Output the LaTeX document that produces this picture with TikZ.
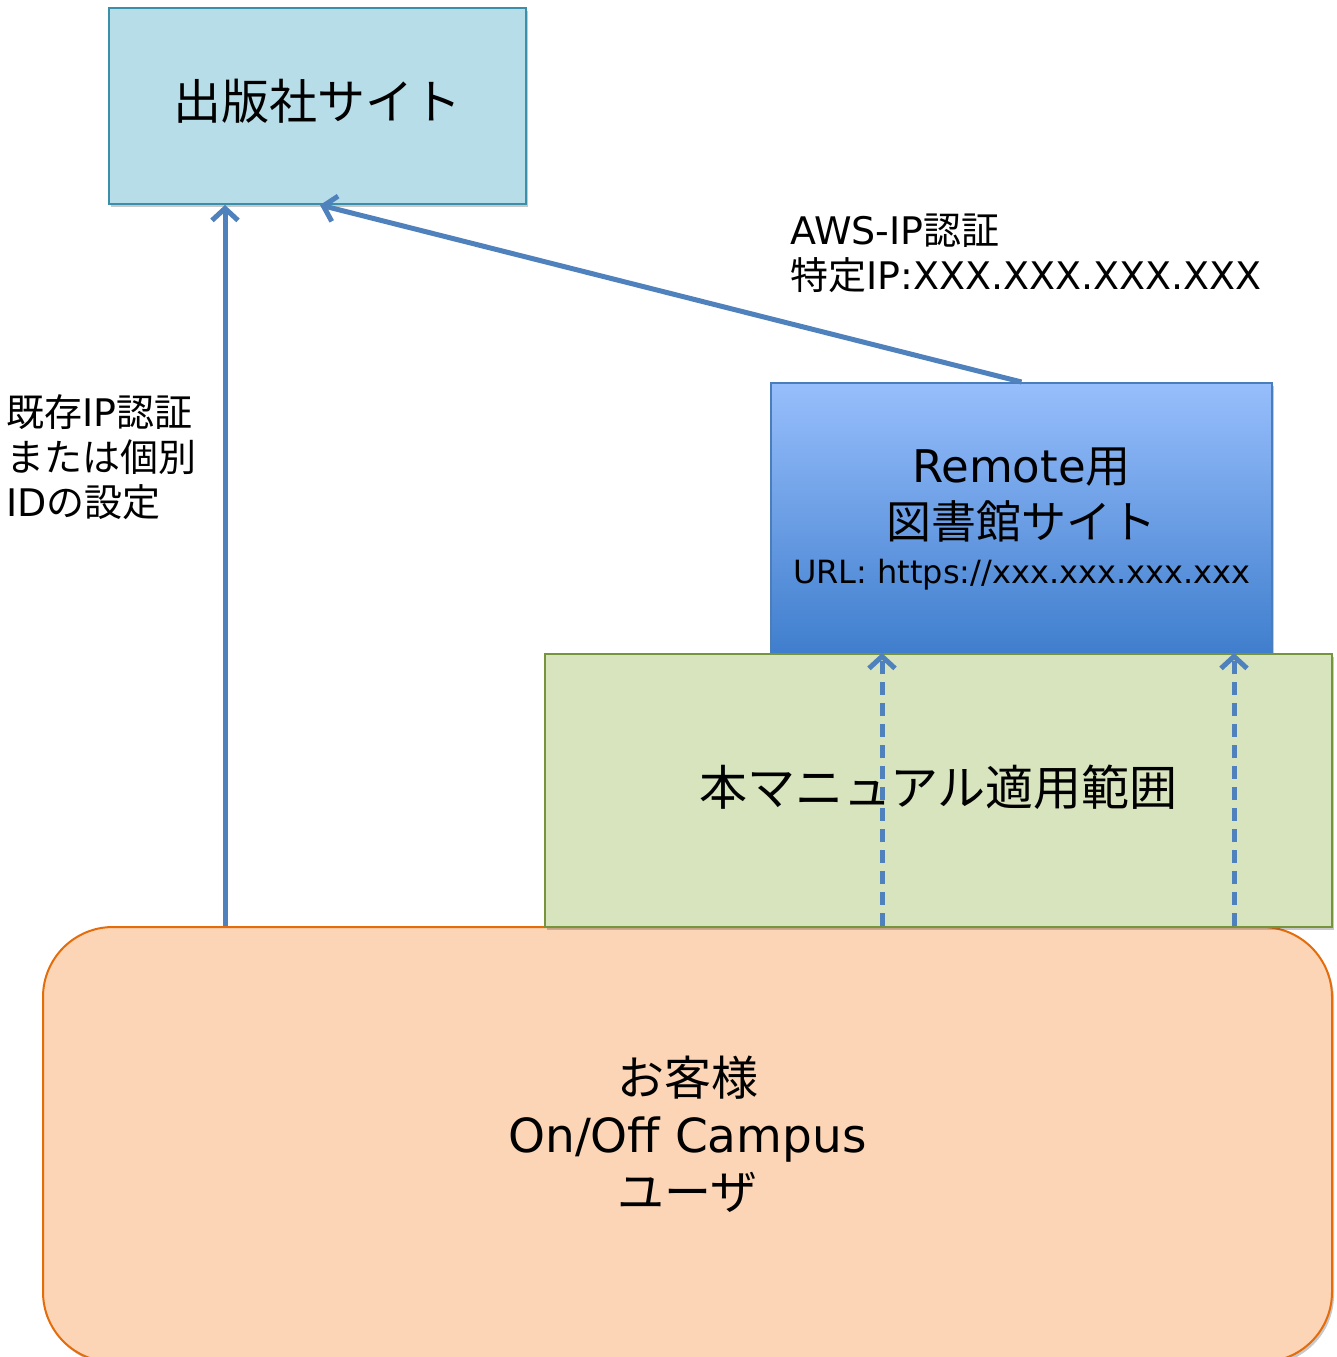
\documentclass[tikz,border=0pt]{standalone}
\usepackage{fontspec}
\setmainfont{DejaVu Sans}
\newfontfamily\jp{Noto Sans CJK JP}
\usetikzlibrary{arrows.meta,shadows}
\definecolor{pubfill}{HTML}{B7DDE8}
\definecolor{publine}{HTML}{3C8FA8}
\definecolor{remtop}{HTML}{97BEFC}
\definecolor{rembot}{HTML}{3F7ECD}
\definecolor{remline}{HTML}{4A7EBB}
\definecolor{scopefill}{HTML}{D7E4BD}
\definecolor{scopeline}{HTML}{77933C}
\definecolor{custfill}{HTML}{FBD5B5}
\definecolor{custline}{HTML}{E46C0A}
\definecolor{arrcol}{HTML}{4F81BD}
\tikzset{
  boxbase/.style={rectangle, line width=2pt, inner sep=0pt,
    drop shadow={shadow xshift=2pt, shadow yshift=-3pt, opacity=.3, fill=black!70}},
  arr/.style={draw=arrcol, line width=5pt,
    -{Straight Barb[length=12pt,width=26pt]}},
  dasharr/.style={arr, dash pattern=on 13pt off 8pt},
  lbl/.style={inner sep=0pt, align=left, anchor=west, font=\fontsize{38}{45}\selectfont}
}
\begin{document}
\begin{tikzpicture}[x=1pt,y=-1pt]
\useasboundingbox (0,0) rectangle (1336,1357);
\fill[white] (0,0) rectangle (1336,1357);

\node[boxbase, fill=pubfill, draw=publine, minimum width=417pt, minimum height=196pt,
  font=\jp\fontsize{48}{56}\selectfont, text depth=14pt] (pub) at (317.5,106) {出版社サイト};

\node[boxbase, top color=remtop, bottom color=rembot, draw=remline,
  minimum width=501pt, minimum height=271pt, align=center,
  font=\fontsize{45}{56}\selectfont] (remote) at (1021.5,518.5)
  {Remote{\jp 用}\\{\jp 図書館サイト}\\[-11pt]{\fontsize{32}{45}\selectfont URL: https://xxx.xxx.xxx.xxx}};

\node[boxbase, rounded corners=70pt, fill=custfill, draw=custline,
  minimum width=1289pt, minimum height=435pt, align=center,
  font=\fontsize{47}{57}\selectfont, text depth=24pt] (cust) at (687.5,1144.5)
  {{\jp お客様}\\On/Off Campus\\{\jp ユーザ}};

\node[boxbase, fill=scopefill, draw=scopeline, minimum width=787pt, minimum height=273pt,
  font=\jp\fontsize{48}{57}\selectfont, text depth=10pt] (scope) at (938.5,790.5) {本マニュアル適用範囲};

\coordinate (xa) at (225,0);
\coordinate (xb) at (320,0);
\coordinate (xc) at (882,0);
\coordinate (xd) at (1234,0);

\draw[arr] (cust.north -| xa) -- (pub.south -| xa);
\draw[arr] (remote.north) -- (pub.south -| xb);
\draw[dasharr] (cust.north -| xc) -- (scope.north -| xc);
\draw[dasharr] (cust.north -| xd) -- (scope.north -| xd);

\node[lbl] (lblL) at (6,457) {{\jp 既存}IP{\jp 認証}\\{\jp または個別}\\ID{\jp の設定}};
\node[lbl] (lblA) at (790,253) {AWS-IP{\jp 認証}\\{\jp 特定}IP:XXX.XXX.XXX.XXX};
\end{tikzpicture}
\end{document}
